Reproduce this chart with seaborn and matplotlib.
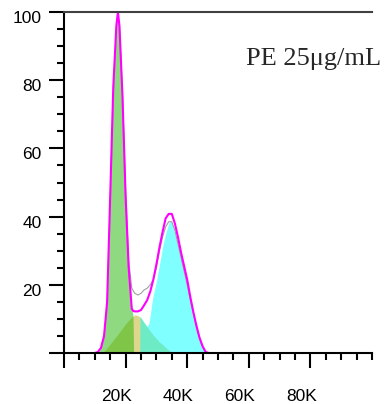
import matplotlib
matplotlib.use("Agg")
import matplotlib.pyplot as plt
import matplotlib.transforms as mtransforms
from matplotlib.ticker import MultipleLocator
import seaborn as sns

# DNA content histogram (channel in K, % of max)
# G1 peak (green fill)
g1_x = [11, 12, 13, 14, 15, 16, 17, 17.5, 18, 19, 20, 21, 22, 22.4, 22.6]
g1_y = [0, 1.5, 5, 15, 45, 78, 95, 100, 95, 73, 45, 24, 13, 11, 0]

# S phase (yellow fill)
s_x = [12.5, 14, 16, 18, 20, 21, 22, 23, 24, 25, 26, 27, 28, 29, 30, 31, 32, 33, 34, 35, 35.5]
s_y = [0, 1.5, 3.8, 6.1, 8.5, 9.6, 10.5, 11.2, 11, 10.2, 8.8, 7.6, 6.4, 5.2, 4.2, 3.2, 2.5, 1.6, 0.9, 0.3, 0]

# G2 peak (cyan fill)
g2_x = [24.6, 24.7, 25, 26, 27, 27.5, 28, 28.5, 29, 30, 31, 32, 33, 34, 34.5, 35, 36, 37, 38, 39, 40,
        41, 42, 43, 44, 45, 46, 46.5]
g2_y = [0, 10.8, 10.4, 9.0, 7.8, 8.5, 11, 14.5, 17, 21, 26, 31, 35, 38, 38.8, 38, 35, 31.5, 27.5, 23.5, 19.5,
        15.5, 11.5, 7.5, 4, 1.8, 0.3, 0]

# measured data (magenta outline)
data_x = [10, 11, 12, 13, 14, 15, 16, 17, 17.5, 18, 19, 20, 21, 22, 22.5, 23, 24, 25, 26, 27, 28, 29, 30,
          31, 32, 33, 34, 35, 36, 37, 38, 39, 40, 41, 42, 43, 44, 45, 46, 47]
data_y = [0, 0.3, 1.5, 5, 15, 46, 78, 96, 100, 96, 75, 46, 25, 13, 12.3, 12.2, 12.2, 12.6, 14, 15.5, 18, 21.5, 26,
          31, 35.5, 39.5, 40.8, 40.8, 38, 34, 29.5, 25.5, 21.5, 16.5, 12, 8, 4.5, 2, 0.3, 0]

# model fit sum (grey line)
fit_x = [12, 13, 14, 15, 16, 17, 17.5, 18, 19, 20, 21, 22, 23, 24, 25, 26, 27, 28, 29, 30, 31, 32, 33, 34, 35,
         36, 37, 38, 39, 40, 41, 42, 43, 44, 45, 46]
fit_y = [1.5, 4.5, 14, 44, 76, 95, 99, 96, 76, 48, 27, 19, 17.5, 17, 17.5, 18.5, 19, 20, 21.5, 25, 30, 34, 37, 38.5,
         38.5, 36, 32, 28, 24, 20, 15.5, 11.5, 7.5, 4.2, 1.8, 0.3]

x_ticks = [0, 20, 40, 60, 80]
x_labels = ["", "20K", "40K", "60K", "80K"]
y_ticks = [0, 20, 40, 60, 80, 100]
y_labels = ["", "20", "40", "60", "80", "100"]

sns.set_style("ticks")
plt.rcParams["font.family"] = ["Liberation Sans", "DejaVu Sans"]

fig = plt.figure(figsize=(3.89, 4.04), dpi=100)
ax = fig.add_axes([64 / 389, 1 - 353 / 404, (372 - 64) / 389, (353 - 12) / 404])

# fills: S phase underneath, then G2 and G1 semi-transparent on top
ax.fill_between(s_x, s_y, color="#dcd78c", lw=0)
ax.fill_between(g2_x, g2_y, color="#00ffff", alpha=0.5, lw=0)
ax.fill_between(g1_x, g1_y, color="#21b505", alpha=0.5, lw=0)

sns.lineplot(x=fit_x, y=fit_y, ax=ax, color="#a0a0a0", lw=0.8, estimator=None, sort=False)
sns.lineplot(x=data_x, y=data_y, ax=ax, color="#ff00ff", lw=1.5, estimator=None, sort=False)

ax.set_xlim(0, 100)
ax.set_ylim(0, 100)
ax.set_xticks(x_ticks)
ax.set_xticklabels(x_labels)
ax.set_yticks(y_ticks)
ax.set_yticklabels(y_labels)
ax.xaxis.set_minor_locator(MultipleLocator(5))
ax.yaxis.set_minor_locator(MultipleLocator(5))

ax.tick_params(which="major", direction="out", length=11, width=1.5, color="black",
               labelsize=12.5, labelcolor="black")
ax.tick_params(which="minor", direction="out", length=5, width=1.5, color="black")
ax.tick_params(axis="x", which="major", pad=15)
ax.tick_params(axis="y", which="major", pad=5)

for side in ["left", "bottom"]:
    ax.spines[side].set_linewidth(1.5)
    ax.spines[side].set_color("black")
ax.spines["top"].set_linewidth(1.5)
ax.spines["top"].set_color("#404040")
ax.spines["right"].set_visible(False)

# tick labels sit a little left / below their ticks in the original
for lbl in ax.get_xticklabels():
    lbl.set_transform(lbl.get_transform() + mtransforms.ScaledTranslation(-0.09, 0, fig.dpi_scale_trans))
for lbl in ax.get_yticklabels():
    lbl.set_transform(lbl.get_transform() + mtransforms.ScaledTranslation(0, -0.05, fig.dpi_scale_trans))

fig.text(246 / 389, 1 - 65 / 404, "PE 25μg/mL", family=["Liberation Serif", "DejaVu Serif"],
         fontsize=19, va="baseline", ha="left")

fig.savefig("out.png", dpi=100)
